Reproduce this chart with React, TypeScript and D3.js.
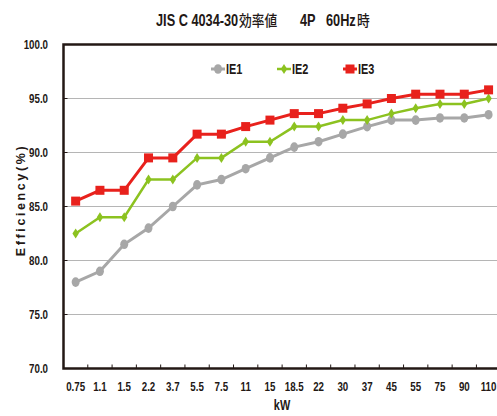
import React from "react";
import * as d3 from "d3";

const categories = ["0.75", "1.1", "1.5", "2.2", "3.7", "5.5", "7.5", "11", "15", "18.5", "22", "30", "37", "45", "55", "75", "90", "110"];
const ie1 = [78.0, 79.0, 81.5, 83.0, 85.0, 87.0, 87.5, 88.5, 89.5, 90.5, 91.0, 91.7, 92.4, 93.0, 93.0, 93.2, 93.2, 93.5];
const ie2 = [82.5, 84.0, 84.0, 87.5, 87.5, 89.5, 89.5, 91.0, 91.0, 92.4, 92.4, 93.0, 93.0, 93.6, 94.1, 94.5, 94.5, 95.0];
const ie3 = [85.5, 86.5, 86.5, 89.5, 89.5, 91.7, 91.7, 92.4, 93.0, 93.6, 93.6, 94.1, 94.5, 95.0, 95.4, 95.4, 95.4, 95.8];
const yTicks = [70, 75, 80, 85, 90, 95, 100];
const seriesNames = ["IE1", "IE2", "IE3"];

const W = 497;
const H = 416;
const sans = "'Liberation Sans', Arial, sans-serif";
const ink = "#231815";

// condensed bold text, squeezed horizontally since no narrow font is installed
const NText = ({ x, y, size, anchor = "start", sx = 0.78, children }: any) => (
  <text
    transform={`translate(${x},${y}) scale(${sx},1)`}
    textAnchor={anchor}
    fontFamily={sans}
    fontWeight="bold"
    fontSize={size}
    fill={ink}
  >
    {children}
  </text>
);

const CjkText = ({ x, y, children }: any) => (
  <text
    transform={`translate(${x},${y}) scale(0.85,1)`}
    fontFamily="'Noto Sans CJK JP'"
    fontWeight="500"
    fontSize={15}
    fill={ink}
  >
    {children}
  </text>
);

export default function App() {
  const left = 63.5;
  const x = d3.scaleBand<string>().domain(categories).range([left, left + 24.29 * categories.length]);
  const y = d3.scaleLinear().domain([70, 100]).range([368.5, 44.5]);
  const cx = (c: string) => (x(c) ?? 0) + x.bandwidth() / 2;

  const line = d3.line<number>().x((_, i) => cx(categories[i])).y(v => y(v));

  const series = [
    { name: seriesNames[0], data: ie1, color: "#a7a7a7", width: 3 },
    { name: seriesNames[1], data: ie2, color: "#8cc220", width: 2.5 },
    { name: seriesNames[2], data: ie3, color: "#e8211c", width: 3 },
  ];

  const marker = (k: number, px: number, py: number, color: string, key: string | number) => {
    if (k === 0) return <ellipse key={key} cx={px} cy={py} rx={4} ry={4.8} fill={color} />;
    if (k === 1)
      return <path key={key} d={`M${px},${py - 5}L${px + 3.2},${py}L${px},${py + 5}L${px - 3.2},${py}Z`} fill={color} />;
    return <rect key={key} x={px - 4.5} y={py - 4.5} width={9} height={9} fill={color} />;
  };

  const legendX = [218, 284, 350];

  return (
    <svg width={W} height={H} style={{ position: "absolute", left: 0, top: 0, background: "#fff" }}>
      {/* title */}
      <NText x={156} y={26} size={17} sx={0.75}>JIS C 4034-30</NText>
      <CjkText x={239} y={26}>効率値</CjkText>
      <NText x={300} y={26} size={17} sx={0.75}>4P</NText>
      <NText x={326} y={26} size={17} sx={0.75}>60Hz</NText>
      <CjkText x={357} y={26}>時</CjkText>

      {/* gridlines */}
      {yTicks.filter(t => t > 70 && t < 100).map(t => (
        <line key={t} x1={left} x2={W} y1={y(t)} y2={y(t)} stroke="#b5b5b5" strokeWidth={1} />
      ))}

      {/* frame */}
      <path d={`M${W},${y(100)}H${left}V${y(70)}H${W}`} fill="none" stroke={ink} strokeWidth={2.5} />

      {/* y ticks */}
      {yTicks.map(t => (
        <g key={t}>
          <line x1={left} x2={left + 4} y1={y(t)} y2={y(t)} stroke={ink} strokeWidth={1} />
          <NText x={48} y={y(t) + 4.5} size={12.5} anchor="end">{t.toFixed(1)}</NText>
        </g>
      ))}

      {/* x ticks */}
      {categories.map(c => (
        <g key={c}>
          <line x1={(x(c) ?? 0) + x.bandwidth()} x2={(x(c) ?? 0) + x.bandwidth()} y1={y(70)} y2={y(70) - 4} stroke={ink} strokeWidth={1} />
          <NText x={cx(c)} y={391} size={12.5} anchor="middle">{c}</NText>
        </g>
      ))}

      <NText x={282} y={410} size={14} anchor="middle">kW</NText>
      <text
        transform={`translate(25,200) rotate(-90)`}
        textAnchor="middle"
        fontFamily={sans}
        fontWeight="bold"
        fontSize={12.5}
        letterSpacing={2.6}
        fill={ink}
      >
        Efficiency(%)
      </text>

      {/* series */}
      {series.map((s, k) => (
        <g key={s.name}>
          <path d={line(s.data) ?? ""} fill="none" stroke={s.color} strokeWidth={s.width} />
          {s.data.map((v, i) => marker(k, cx(categories[i]), y(v), s.color, i))}
        </g>
      ))}

      {/* legend */}
      {series.map((s, k) => (
        <g key={s.name}>
          <line x1={legendX[k] - 7} x2={legendX[k] + 7} y1={69} y2={69} stroke={s.color} strokeWidth={s.width} />
          {marker(k, legendX[k], 69, s.color, "m")}
          <NText x={legendX[k] + 8} y={74} size={14}>{s.name}</NText>
        </g>
      ))}
    </svg>
  );
}
